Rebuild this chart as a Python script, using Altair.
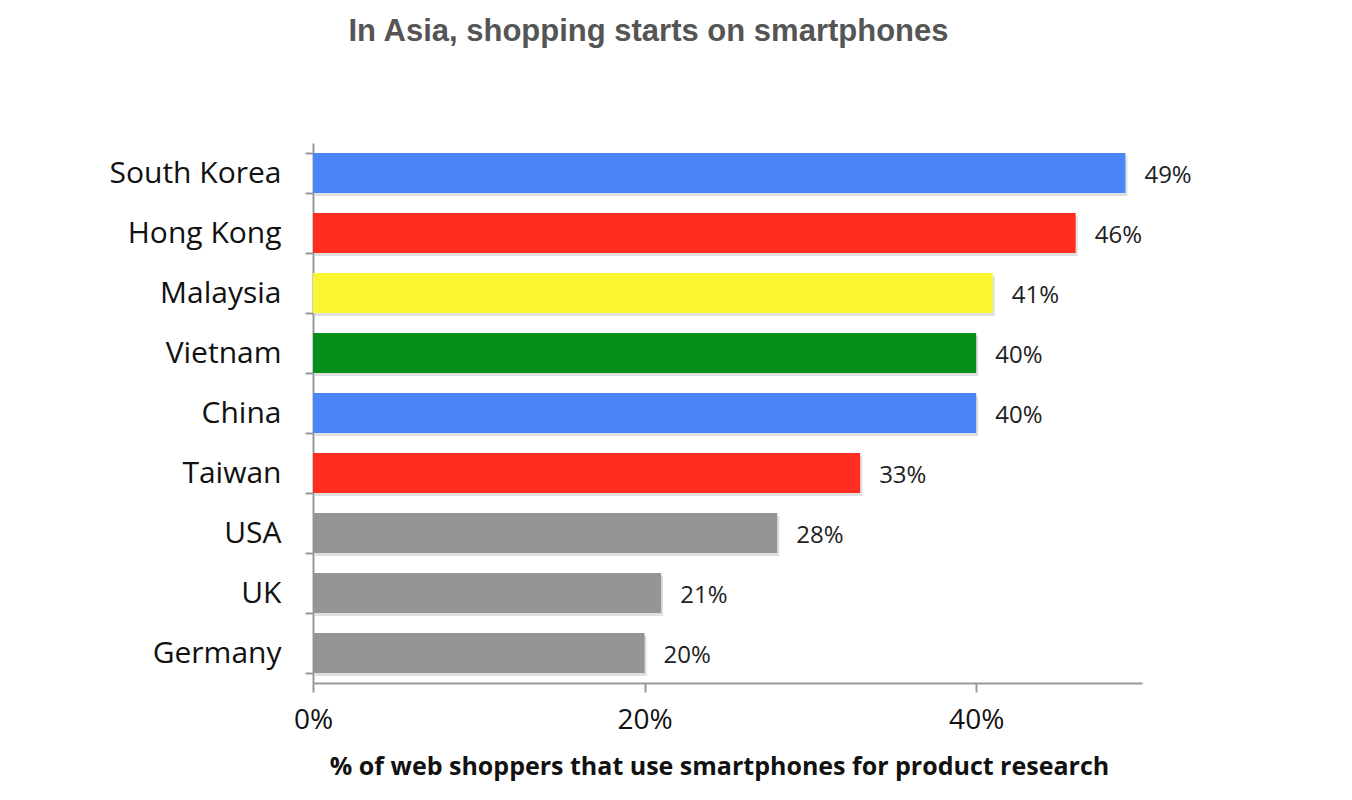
import altair as alt
import pandas as pd

countries = ["South Korea", "Hong Kong", "Malaysia", "Vietnam", "China",
             "Taiwan", "USA", "UK", "Germany"]
shares = [49, 46, 41, 40, 40, 33, 28, 21, 20]
labels = ["49%", "46%", "41%", "40%", "40%", "33%", "28%", "21%", "20%"]
palette = ["#4a86f7", "#ff2d20", "#fcf632", "#068e1a", "#4a86f7",
           "#ff2d20", "#959595", "#959595", "#959595"]

df = pd.DataFrame({"country": countries, "share": shares, "label": labels})

FONT = "Open Sans"

y_enc = alt.Y(
    "country:N",
    sort=countries,
    title=None,
    scale=alt.Scale(paddingInner=1 / 3, paddingOuter=1 / 6),
    axis=alt.Axis(
        tickBand="extent", tickSize=8, tickColor="#999999", domainColor="#999999",
        domainWidth=2, tickWidth=2, labelFont=FONT, labelFontSize=30,
        labelColor="#111111", labelPadding=24,
    ),
)
x_enc = alt.X(
    "share:Q",
    title="% of web shoppers that use smartphones for product research",
    scale=alt.Scale(domain=[0, 50], nice=False),
    axis=alt.Axis(
        values=[0, 20, 40], labelExpr="datum.value + '%'", grid=False,
        labelFlush=False, tickSize=9, tickColor="#999999", domainColor="#999999",
        domainWidth=2, tickWidth=2, labelFont=FONT, labelFontSize=28,
        labelColor="#111111", labelPadding=14, titleFont=FONT, titleFontSize=25,
        titleFontWeight="bold", titleColor="#111111", titlePadding=20, titleX=406,
    ),
)

base = alt.Chart(df).encode(y=y_enc)

shadow = base.mark_bar(color="#000000", opacity=0.12, xOffset=2, yOffset=3).encode(x=x_enc)

bars = base.mark_bar().encode(
    x=x_enc,
    color=alt.Color("country:N", scale=alt.Scale(domain=countries, range=palette), legend=None),
)

text = base.mark_text(align="left", dx=19, dy=3, font=FONT, fontSize=24,
                      color="#222222").encode(x="share:Q", text="label:N")

chart = (
    alt.layer(shadow, bars, text)
    .properties(
        width=829,
        height=540,
        padding={"left": 305, "top": 135, "right": 190, "bottom": 110},
        autosize=alt.AutoSizeParams(type="none"),
        title=alt.TitleParams(
            "In Asia, shopping starts on smartphones",
            font="Liberation Sans", fontSize=31, fontWeight="bold", color="#555555",
            anchor="middle", dx=-79, offset=80,
        ),
    )
    .configure_view(stroke=None)
)

chart.save("out.html", embed_options={"renderer": "svg", "actions": False})
